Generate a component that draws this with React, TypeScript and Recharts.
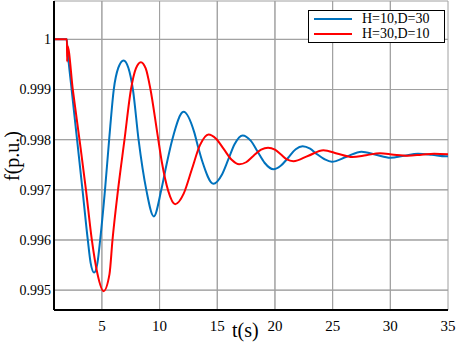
import React from "react";
import {
  CartesianGrid,
  Line,
  LineChart,
  ReferenceLine,
  XAxis,
  YAxis,
} from "recharts";

// [t (s), f (p.u.)]
const blueSeries: [number, number][] = [
  [0.85, 1], [1.95, 1], [2.0, 0.99985], [2.38, 0.999], [2.85, 0.998], [3.32, 0.997],
  [3.78, 0.996], [4.02, 0.99555], [4.33, 0.99535], [4.62, 0.99555], [4.85, 0.996],
  [5.27, 0.997], [5.63, 0.998], [6.03, 0.999], [6.42, 0.99943], [6.88, 0.99958],
  [7.3, 0.99943], [7.69, 0.999], [8.18, 0.998], [8.85, 0.997], [9.5, 0.99647],
  [10.15, 0.997], [10.6, 0.9975], [11.1, 0.998], [12.08, 0.998555], [13.0, 0.99815],
  [13.37, 0.99783], [13.7, 0.99757], [14.67, 0.99712], [15.4, 0.9973], [15.95, 0.9976],
  [16.5, 0.99791], [17.2, 0.998085], [17.9, 0.99798], [18.5, 0.99776], [19.1, 0.99754],
  [19.87, 0.99741], [20.5, 0.99748], [21.15, 0.99764], [21.8, 0.99781], [22.4, 0.99787],
  [23.05, 0.99782], [23.65, 0.99771], [24.3, 0.99761], [24.93, 0.99756], [26.2, 0.99766],
  [27.5, 0.99776], [28.75, 0.9977], [30.0, 0.99764], [31.2, 0.99768], [32.4, 0.99772],
  [33.6, 0.9977], [34.8, 0.99767], [35, 0.99767],
];

const redSeries: [number, number][] = [
  [0.85, 1], [1.97, 1], [1.99, 0.99956], [2.02, 0.99987], [2.48, 0.999], [3.06, 0.998],
  [3.62, 0.997], [4.13, 0.996], [4.62, 0.99532], [5.14, 0.99498], [5.66, 0.99532],
  [5.92, 0.996], [6.4, 0.997], [6.96, 0.998], [7.52, 0.999], [7.95, 0.99942],
  [8.38, 0.999545], [8.8, 0.99942], [9.19, 0.99903], [9.83, 0.99809], [10.2, 0.99755],
  [10.75, 0.99698], [11.35, 0.996714], [12.1, 0.99693], [12.8, 0.99741], [13.5, 0.99789],
  [14.24, 0.998105], [14.9, 0.99802], [15.57, 0.99781], [16.25, 0.9976], [16.9, 0.99751],
  [17.5, 0.99755], [18.15, 0.99768], [18.8, 0.9978], [19.4, 0.99784], [20.0, 0.9978],
  [20.5, 0.99771], [21.0, 0.99761], [21.6, 0.99757], [22.9, 0.99768], [24.2, 0.99779],
  [25.45, 0.99772], [26.7, 0.997654], [27.9, 0.99769], [29.1, 0.99773], [30.3, 0.9977],
  [31.5, 0.99768], [32.7, 0.9977], [33.8, 0.99772], [35, 0.99771],
];

const seriesNames = ["H=10,D=30", "H=30,D=10"];
const seriesColors = ["#0072BD", "#FF0000"];
const xTicks = [5, 10, 15, 20, 25, 30, 35];
const yTicks = [0.995, 0.996, 0.997, 0.998, 0.999, 1];

const xDomain: [number, number] = [0.85, 35];
const yDomain: [number, number] = [0.994604, 1.000765];

const toPoints = (s: [number, number][]) => s.map(([t, f]) => ({ t, f }));
const bluePoints = toPoints(blueSeries);
const redPoints = toPoints(redSeries);

const serif = "Liberation Serif";
const gridColor = "#a0a0a0";

function XTick({ x, y, payload }: any) {
  return (
    <text x={x} y={y} dy="0.71em" textAnchor="middle" fill="#000" fontFamily={serif} fontSize={15}>
      {payload.value}
    </text>
  );
}

function YTick({ x, y, payload }: any) {
  const v = Number(payload.value);
  return (
    <text x={x} y={y} dy="0.355em" textAnchor="end" fill="#000" fontFamily={serif} fontSize={14}>
      {v === 1 ? "1" : v.toFixed(3)}
    </text>
  );
}

function LegendBox() {
  return (
    <div
      style={{
        position: "absolute",
        left: 308,
        top: 10,
        width: 135,
        height: 31,
        border: "1.5px solid #000",
        background: "#fff",
        fontSize: 14,
      }}
    >
      {seriesNames.map((name, i) => (
        <div
          key={name}
          style={{ position: "absolute", left: 5, top: i === 0 ? 0 : 15, height: 15, display: "flex", alignItems: "center" }}
        >
          <div style={{ width: 38, height: 2, background: seriesColors[i] }} />
          <span style={{ marginLeft: 10, lineHeight: "15px" }}>{name}</span>
        </div>
      ))}
    </div>
  );
}

export default function App() {
  return (
    <div
      style={{
        position: "absolute",
        left: 0,
        top: 0,
        width: 457,
        height: 347,
        background: "#fff",
        fontFamily: "'Liberation Serif', serif",
      }}
    >
      <LineChart
        width={457}
        height={347}
        data={bluePoints}
        margin={{ top: 1, right: 9, left: 0, bottom: 0 }}
      >
        <CartesianGrid stroke={gridColor} strokeWidth={1} />
        <XAxis
          type="number"
          dataKey="t"
          domain={xDomain}
          ticks={xTicks}
          height={37}
          axisLine={{ stroke: "#000", strokeWidth: 2 }}
          tickLine={false}
          tickMargin={10}
          tickSize={0}
          tick={<XTick />}
        />
        <YAxis
          type="number"
          domain={yDomain}
          ticks={yTicks}
          width={54}
          axisLine={{ stroke: "#000", strokeWidth: 2 }}
          tickLine={false}
          tickSize={0}
          tickMargin={3}
          tick={<YTick />}
        />
        <XAxis
          xAxisId="top"
          orientation="top"
          type="number"
          dataKey="t"
          domain={xDomain}
          height={0}
          tick={false}
          tickLine={false}
          axisLine={{ stroke: "#000", strokeWidth: 2 }}
        />
        <YAxis
          yAxisId="right"
          orientation="right"
          type="number"
          domain={yDomain}
          width={0}
          tick={false}
          tickLine={false}
          axisLine={{ stroke: "#000", strokeWidth: 2 }}
        />
        {xTicks.slice(0, -1).map((t) => (
          <ReferenceLine key={`gx${t}`} x={t} stroke={gridColor} strokeWidth={1} />
        ))}
        {yTicks.map((v) => (
          <ReferenceLine key={`gy${v}`} y={v} stroke={gridColor} strokeWidth={1} />
        ))}
        <Line
          dataKey="f"
          name={seriesNames[0]}
          type="monotone"
          stroke={seriesColors[0]}
          strokeWidth={2}
          dot={false}
          isAnimationActive={false}
        />
        <Line
          data={redPoints}
          dataKey="f"
          name={seriesNames[1]}
          type="monotone"
          stroke={seriesColors[1]}
          strokeWidth={2}
          dot={false}
          isAnimationActive={false}
        />
      </LineChart>
      <LegendBox />
      <div
        style={{
          position: "absolute",
          left: 232,
          top: 318,
          fontSize: 20,
          lineHeight: "24px",
        }}
      >
        t(s)
      </div>
      <div
        style={{
          position: "absolute",
          left: 12,
          top: 156,
          fontSize: 20,
          lineHeight: "24px",
          whiteSpace: "nowrap",
          transform: "translate(-50%, -50%) rotate(-90deg)",
        }}
      >
        f(p.u.)
      </div>
    </div>
  );
}
